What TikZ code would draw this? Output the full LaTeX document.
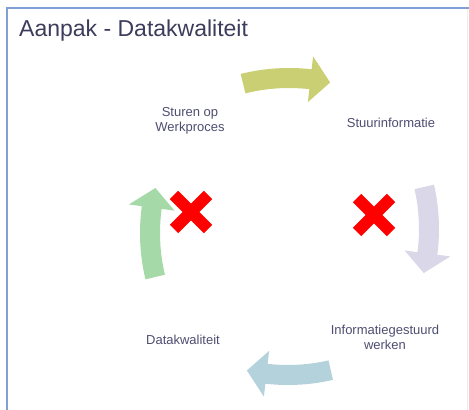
\documentclass[tikz,border=0pt]{standalone}
\usepackage{fontspec}
\setmainfont{Liberation Sans}
\definecolor{framecol}{HTML}{7F9FD6}
\definecolor{titlecol}{HTML}{3C3C5C}
\definecolor{labelcol}{HTML}{4E4E72}
\definecolor{arrowtop}{HTML}{C9CF72}
\definecolor{arrowright}{HTML}{D9D7E8}
\definecolor{arrowbottom}{HTML}{B4D2DB}
\definecolor{arrowleft}{HTML}{A6D9A8}
\definecolor{crossred}{HTML}{FF0000}
% #1,#2 centre of curvature, #3 start angle, #4 end (tip) angle, #5 colour
\newcommand\cyclearrow[5]{%
  \pgfmathsetmacro\hh{#4+6}%
  \begin{scope}[shift={(#1,#2)}]
  \fill[#5] (#3:200) arc[start angle=#3, end angle=\hh, radius=200]
    -- (\hh:213) -- (#4:190) -- (\hh:167) -- (\hh:180)
    arc[start angle=\hh, end angle=#3, radius=180] -- cycle;
  \end{scope}}
\begin{document}
\begin{tikzpicture}[x=1pt,y=1pt,
  lbl/.style={text=labelcol, font=\fontsize{13}{15}\selectfont, align=center, inner sep=0pt},
  crossbar/.style={line width=12pt, crossred}]
\useasboundingbox (0,0) rectangle (469,410);
\fill[white] (0,0) rectangle (469,410);
% frame
\draw[framecol, line width=1.8pt] (7,0) -- (7,402) -- (469,402);
\draw[black!7, line width=0.8pt] (467.5,0) -- (467.5,401);
% title
\node[anchor=base west, inner sep=0pt, text=titlecol, font=\fontsize{23}{27}\selectfont] (title) at (19,373) {Aanpak - Datakwaliteit};
% cycle arrows
\cyclearrow{289}{142}{104}{77.5}{arrowtop}
\cyclearrow{239}{181}{12.8}{-13.4}{arrowright}
\cyclearrow{288}{225}{-77}{-102.5}{arrowbottom}
\cyclearrow{340}{177}{193.4}{166.3}{arrowleft}
% labels
\node[lbl] (sturen) at (190,289) {Sturen op\\Werkproces};
\node[lbl] (stuurinfo) at (391,287) {Stuurinformatie};
\node[lbl] (dk) at (183,70) {Datakwaliteit};
\node[lbl] (igw) at (385,73) {Informatiegestuurd\\werken};
% red crosses
\coordinate (xl) at (191,198);
\coordinate (xr) at (374,195);
\foreach \c in {xl,xr}{
  \draw[crossbar] ([shift={(-17,-17)}]\c) -- ([shift={(17,17)}]\c);
  \draw[crossbar] ([shift={(-17,17)}]\c) -- ([shift={(17,-17)}]\c);
}
\end{tikzpicture}
\end{document}
